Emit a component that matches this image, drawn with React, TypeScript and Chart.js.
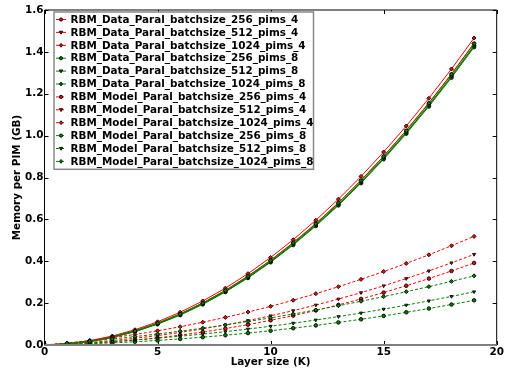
import React, { useEffect, useRef } from "react";
import { Chart, registerables } from "chart.js";

Chart.register(...registerables);

const layerSizes = [0, 1, 2, 3, 4, 5, 6, 7, 8, 9, 10, 11, 12, 13, 14, 15, 16, 17, 18, 19];

const dataParal256Pims4 = [0, 0.0045, 0.0169, 0.0372, 0.0653, 0.1013, 0.1451, 0.1968, 0.2563, 0.3237, 0.399, 0.4821, 0.5731, 0.672, 0.7787, 0.8933, 1.0157, 1.146, 1.2841, 1.4301];
const dataParal512Pims4 = [0, 0.0051, 0.0181, 0.039, 0.0677, 0.1043, 0.1487, 0.201, 0.2611, 0.3291, 0.405, 0.4887, 0.5803, 0.6798, 0.7871, 0.9023, 1.0253, 1.1562, 1.2949, 1.4415];
const dataParal1024Pims4 = [0, 0.0064, 0.0207, 0.0429, 0.0729, 0.1108, 0.1565, 0.2101, 0.2715, 0.3408, 0.418, 0.503, 0.5959, 0.6967, 0.8053, 0.9218, 1.0461, 1.1783, 1.3183, 1.4662];
const dataParal256Pims8 = [0, 0.0041, 0.0161, 0.036, 0.0637, 0.0993, 0.1427, 0.194, 0.2531, 0.3201, 0.395, 0.4777, 0.5683, 0.6668, 0.7731, 0.8873, 1.0093, 1.1392, 1.2769, 1.4225];
const dataParal512Pims8 = [0, 0.0044, 0.0167, 0.0369, 0.0649, 0.1008, 0.1445, 0.1961, 0.2555, 0.3228, 0.398, 0.481, 0.5719, 0.6707, 0.7773, 0.8918, 1.0141, 1.1443, 1.2823, 1.4282];
const dataParal1024Pims8 = [0, 0.005, 0.0179, 0.0387, 0.0673, 0.1038, 0.1481, 0.2003, 0.2603, 0.3282, 0.404, 0.4876, 0.5791, 0.6785, 0.7857, 0.9008, 1.0237, 1.1545, 1.2931, 1.4396];
const modelParal256Pims4 = [0, 0.0029, 0.0078, 0.0147, 0.0235, 0.0343, 0.0471, 0.0618, 0.0785, 0.0972, 0.1178, 0.1404, 0.165, 0.1915, 0.22, 0.2504, 0.2829, 0.3172, 0.3536, 0.3919];
const modelParal512Pims4 = [0, 0.0051, 0.0121, 0.0212, 0.0321, 0.0451, 0.06, 0.0769, 0.0957, 0.1165, 0.1393, 0.164, 0.1908, 0.2194, 0.2501, 0.2827, 0.3173, 0.3538, 0.3923, 0.4328];
const modelParal1024Pims4 = [0, 0.0096, 0.0212, 0.0347, 0.0503, 0.0677, 0.0872, 0.1086, 0.132, 0.1573, 0.1846, 0.2139, 0.2451, 0.2783, 0.3135, 0.3506, 0.3897, 0.4308, 0.4738, 0.5188];
const modelParal256Pims8 = [0, 0.0024, 0.0058, 0.0101, 0.0155, 0.0218, 0.0291, 0.0374, 0.0466, 0.0569, 0.0681, 0.0803, 0.0935, 0.1077, 0.1228, 0.139, 0.1561, 0.1742, 0.1933, 0.2134];
const modelParal512Pims8 = [0, 0.0045, 0.0101, 0.0166, 0.0241, 0.0325, 0.042, 0.0524, 0.0638, 0.0762, 0.0896, 0.104, 0.1193, 0.1356, 0.1529, 0.1712, 0.1905, 0.2108, 0.232, 0.2542];
const modelParal1024Pims8 = [0, 0.0085, 0.0181, 0.0286, 0.0401, 0.0525, 0.066, 0.0804, 0.0958, 0.1122, 0.1296, 0.148, 0.1673, 0.1876, 0.2089, 0.2312, 0.2545, 0.2788, 0.304, 0.3302];

const seriesLabels = [
  "RBM_Data_Paral_batchsize_256_pims_4",
  "RBM_Data_Paral_batchsize_512_pims_4",
  "RBM_Data_Paral_batchsize_1024_pims_4",
  "RBM_Data_Paral_batchsize_256_pims_8",
  "RBM_Data_Paral_batchsize_512_pims_8",
  "RBM_Data_Paral_batchsize_1024_pims_8",
  "RBM_Model_Paral_batchsize_256_pims_4",
  "RBM_Model_Paral_batchsize_512_pims_4",
  "RBM_Model_Paral_batchsize_1024_pims_4",
  "RBM_Model_Paral_batchsize_256_pims_8",
  "RBM_Model_Paral_batchsize_512_pims_8",
  "RBM_Model_Paral_batchsize_1024_pims_8",
];
const seriesValues = [
  dataParal256Pims4, dataParal512Pims4, dataParal1024Pims4,
  dataParal256Pims8, dataParal512Pims8, dataParal1024Pims8,
  modelParal256Pims4, modelParal512Pims4, modelParal1024Pims4,
  modelParal256Pims8, modelParal512Pims8, modelParal1024Pims8,
];

const xTickValues = [0, 5, 10, 15, 20];
const yTickValues = [0, 0.2, 0.4, 0.6, 0.8, 1.0, 1.2, 1.4, 1.6];

const RED = "#ff0000";
const GREEN = "#008000";
const FONT_FAMILY = "'DejaVu Sans', sans-serif";
const FONT_SIZE = 10.4;

type Marker = "circle" | "down" | "diamond";
const markers: Marker[] = ["circle", "down", "diamond"];

function styleFor(i: number) {
  const color = Math.floor(i / 3) % 2 === 0 ? RED : GREEN;
  const dashed = i >= 6;
  const marker = markers[i % 3];
  return { color, dashed, marker };
}

function drawMarker(ctx: CanvasRenderingContext2D, m: Marker, x: number, y: number, r: number, fill: string) {
  ctx.save();
  ctx.setLineDash([]);
  ctx.beginPath();
  if (m === "circle") {
    ctx.arc(x, y, r, 0, Math.PI * 2);
  } else if (m === "down") {
    ctx.moveTo(x - r * 1.1, y - r * 0.7);
    ctx.lineTo(x + r * 1.1, y - r * 0.7);
    ctx.lineTo(x, y + r * 1.1);
    ctx.closePath();
  } else {
    ctx.moveTo(x, y - r * 1.2);
    ctx.lineTo(x + r, y);
    ctx.lineTo(x, y + r * 1.2);
    ctx.lineTo(x - r, y);
    ctx.closePath();
  }
  ctx.fillStyle = fill;
  ctx.fill();
  ctx.strokeStyle = "#000000";
  ctx.lineWidth = 0.9;
  ctx.stroke();
  ctx.restore();
}

const framePlugin = {
  id: "mplFrame",
  afterDatasetsDraw(chart: any) {
    const { ctx, chartArea } = chart;
    const { left, right, top, bottom } = chartArea;
    const xs = chart.scales.x;
    const ys = chart.scales.y;
    ctx.save();
    ctx.setLineDash([]);
    ctx.strokeStyle = "#000000";
    ctx.lineWidth = 1;
    const tl = 4;
    for (const v of yTickValues) {
      const py = Math.round(ys.getPixelForValue(v)) + 0.5;
      ctx.beginPath();
      ctx.moveTo(left, py);
      ctx.lineTo(left + tl, py);
      ctx.moveTo(right, py);
      ctx.lineTo(right - tl, py);
      ctx.stroke();
    }
    for (const v of xTickValues) {
      const px = Math.round(xs.getPixelForValue(v)) + 0.5;
      ctx.beginPath();
      ctx.moveTo(px, bottom);
      ctx.lineTo(px, bottom - tl);
      ctx.moveTo(px, top);
      ctx.lineTo(px, top + tl);
      ctx.stroke();
    }
    ctx.beginPath();
    ctx.moveTo(left, top);
    ctx.lineTo(right, top);
    ctx.lineTo(right, bottom);
    ctx.moveTo(left, top);
    ctx.lineTo(left, bottom);
    ctx.stroke();
    ctx.strokeStyle = "#808080";
    ctx.lineWidth = 2;
    ctx.beginPath();
    ctx.moveTo(left, bottom);
    ctx.lineTo(right, bottom);
    ctx.stroke();
    ctx.restore();
  },
  afterDraw(chart: any) {
    const { ctx, chartArea } = chart;
    const boxLeft = chartArea.left + 9.5;
    const boxTop = chartArea.top + 2;
    const rowH = 12.9;
    const boxRight = 313.5;
    const boxBottom = boxTop + rowH * seriesLabels.length + 2.5;
    ctx.save();
    ctx.fillStyle = "#ffffff";
    ctx.fillRect(boxLeft, boxTop, boxRight - boxLeft, boxBottom - boxTop);
    ctx.strokeStyle = "#888888";
    ctx.lineWidth = 1.5;
    ctx.strokeRect(boxLeft, boxTop, boxRight - boxLeft, boxBottom - boxTop);
    ctx.font = `bold ${FONT_SIZE}px ${FONT_FAMILY}`;
    ctx.textBaseline = "middle";
    ctx.textAlign = "left";
    seriesLabels.forEach((label, i) => {
      const st = styleFor(i);
      const cy = boxTop + 7.5 + i * rowH;
      const x0 = boxLeft + 2;
      const x1 = boxLeft + 12;
      ctx.strokeStyle = st.color;
      ctx.lineWidth = 1;
      ctx.setLineDash(st.dashed ? [3, 2] : []);
      ctx.beginPath();
      ctx.moveTo(x0, cy);
      ctx.lineTo(x1, cy);
      ctx.stroke();
      ctx.setLineDash([]);
      drawMarker(ctx, st.marker, (x0 + x1) / 2, cy, 1.6, st.color);
      ctx.fillStyle = "#000000";
      ctx.fillText(label, boxLeft + 16.5, cy + 0.5);
    });
    ctx.restore();
  },
};

export default function App() {
  const canvasRef = useRef<HTMLCanvasElement | null>(null);

  useEffect(() => {
    const canvas = canvasRef.current;
    if (!canvas) return;
    const datasets = seriesValues.map((vals, i) => {
      const st = styleFor(i);
      return {
        label: seriesLabels[i],
        data: layerSizes.map((x, j) => ({ x, y: vals[j] })),
        borderColor: st.color,
        backgroundColor: st.color,
        borderWidth: 1,
        borderDash: st.dashed ? [3, 2] : [],
        pointStyle: st.marker === "circle" ? "circle" : st.marker === "down" ? "triangle" : "rectRot",
        pointRotation: st.marker === "down" ? 180 : 0,
        pointRadius: st.marker === "diamond" ? 2 : 1.8,
        pointBackgroundColor: st.color,
        pointBorderColor: "#000000",
        pointBorderWidth: 0.9,
        fill: false,
        tension: 0,
        order: seriesValues.length - 1 - i,
      };
    });

    const font = { family: FONT_FAMILY, size: FONT_SIZE, weight: "bold" as const };

    const chart = new Chart(canvas, {
      type: "line",
      data: { datasets },
      plugins: [framePlugin],
      options: {
        animation: false,
        responsive: false,
        devicePixelRatio: 1,
        layout: { padding: { top: 10, right: 11.3, left: 0, bottom: 0 } },
        plugins: {
          legend: { display: false },
          tooltip: { enabled: false },
        },
        scales: {
          x: {
            type: "linear",
            min: 0,
            max: 20,
            afterFit: (scale: any) => {
              scale.height = 27;
            },
            afterBuildTicks: (scale: any) => {
              scale.ticks = xTickValues.map((v) => ({ value: v }));
            },
            ticks: {
              color: "#000000",
              font,
              padding: 1.5,
              maxRotation: 0,
              autoSkip: false,
              callback: (v: any) => String(v),
            },
            grid: { display: false, drawTicks: false },
            border: { display: false },
            title: {
              display: true,
              text: "Layer size (K)",
              color: "#000000",
              font,
              padding: { top: 0, bottom: 3.7 },
            },
          },
          y: {
            type: "linear",
            min: 0,
            max: 1.6,
            afterFit: (scale: any) => {
              scale.width = 44.5;
            },
            afterBuildTicks: (scale: any) => {
              scale.ticks = yTickValues.map((v) => ({ value: v }));
            },
            ticks: {
              color: "#000000",
              font,
              padding: 1,
              autoSkip: false,
              callback: (v: any) => Number(v).toFixed(1),
            },
            grid: { display: false, drawTicks: false },
            border: { display: false },
            title: {
              display: true,
              text: "Memory per PIM (GB)",
              color: "#000000",
              font,
              padding: { top: 11.5, bottom: 0 },
            },
          },
        },
      } as any,
    });
    return () => chart.destroy();
  }, []);

  return (
    <div style={{ position: "fixed", left: 0, top: 0, width: 508, height: 372, background: "#ffffff" }}>
      <canvas ref={canvasRef} width={508} height={372} style={{ width: 508, height: 372, display: "block" }} />
    </div>
  );
}
